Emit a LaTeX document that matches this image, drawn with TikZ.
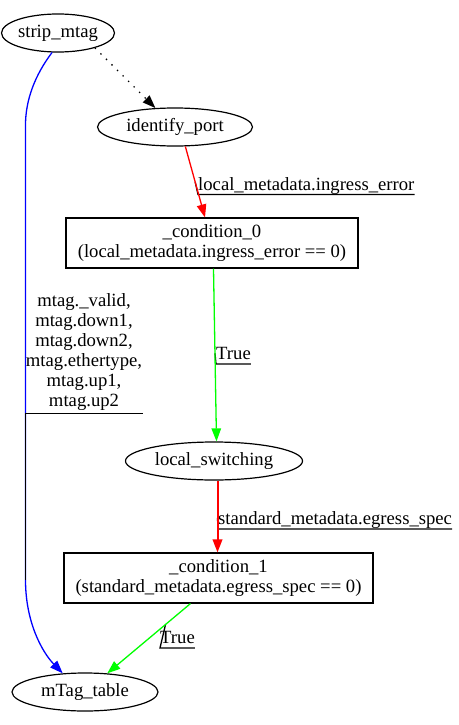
\documentclass[tikz,border=0pt]{standalone}
\usepackage{fontspec}
\setmainfont{Liberation Serif}
\usetikzlibrary{shapes.geometric,arrows.meta,calc}
\begin{document}
\begin{tikzpicture}[x=1pt,y=-1pt,
  every node/.style={font=\fontsize{18.67}{20}\selectfont, inner sep=0pt},
  ell/.style={draw, ellipse, line width=1.2pt, minimum height=38pt},
  boxnode/.style={draw, rectangle, line width=1.1pt, align=center},
  edge/.style={line width=1.3pt, -{Triangle[length=13pt,width=9.5pt]}},
  deco/.style={line width=1.3pt, black},
  elabel/.style={anchor=base west}
]
\useasboundingbox (0,0) rectangle (458,725);

% nodes
\node[ell, minimum width=104pt] (sm) at (58,33) {strip\_mtag};
\node[ell, minimum width=155pt] (ip) at (175,127) {identify\_port};
\node[boxnode, minimum width=292pt, minimum height=50pt] (c0) at (212,243) {\_condition\_0\\(local\_metadata.ingress\_error == 0)};
\node[ell, minimum width=177pt] (ls) at (214,461) {local\_switching};
\node[boxnode, minimum width=309pt, minimum height=50pt] (c1) at (218.5,578) {\_condition\_1\\(standard\_metadata.egress\_spec == 0)};
\node[ell, minimum width=146pt] (mt) at (85,692) {mTag\_table};

% edge end points
\coordinate (a1) at (ip.-62);
\coordinate (b1) at ([xshift=-7pt]c0.north);
\coordinate (a2) at ([xshift=1.5pt]c0.south);
\coordinate (b2) at ([xshift=2.5pt]ls.north);
\coordinate (a3) at ([xshift=3.5pt]ls.south);
\coordinate (b3) at ([xshift=-1pt]c1.north);
\coordinate (a4) at ([xshift=-28pt]c1.south);
\coordinate (b4) at (mt.40);
\coordinate (e1m) at ($(a1)!0.5!(b1)$);
\coordinate (e2m) at ($(a2)!0.49!(b2)$);
\coordinate (e3m) at ($(a3)!0.52!(b3)$);
\coordinate (e4m) at ($(a4)!0.3!(b4)$);

% edge labels
\node[anchor=south, align=center] (l0) at (84,411) {mtag.\_valid,\\mtag.down1,\\mtag.down2,\\mtag.ethertype,\\mtag.up1,\\mtag.up2};
\node[elabel] (l1) at (198,190.5) {local\_metadata.ingress\_error};
\node[elabel] (l2) at (216,359.5) {True};
\node[elabel] (l3) at (218,524.5) {standard\_metadata.egress\_spec};
\node[elabel] (l4) at (160,643.5) {True};

% decorations under the coloured edges
\draw[deco] (e1m) -- ([yshift=-4pt]l1.base west) -- ([yshift=-4pt]l1.base east);
\draw[deco] (e2m) -- ([yshift=-4.5pt]l2.base west) -- ([yshift=-4.5pt]l2.base east);
\draw[deco] (e3m) -- ([yshift=-4.5pt]l3.base west) -- ([yshift=-4.5pt]l3.base east);
\draw[deco] (e4m) -- ([yshift=-4.5pt]l4.base west) -- ([yshift=-4.5pt]l4.base east);

% edges
\draw[edge, dash pattern=on 1.3pt off 6.5pt] (sm.-22) -- (ip.136);
\draw[edge, blue] (sm.-107) .. controls (35,75) and (25.5,100) .. (25.5,125) -- (25.5,580) coordinate (e0m) .. controls (25.5,622) and (42,652) .. (mt.140);
\draw[edge, red] (a1) -- (b1);
\draw[edge, green] (a2) -- (b2);
\draw[edge, red, line width=2pt] (a3) -- (b3);
\draw[edge, green] (a4) -- (b4);

% decoration over the blue edge
\draw[deco] (e0m) -- (25.5,413.5) -- (143,413.5);
\end{tikzpicture}
\end{document}
